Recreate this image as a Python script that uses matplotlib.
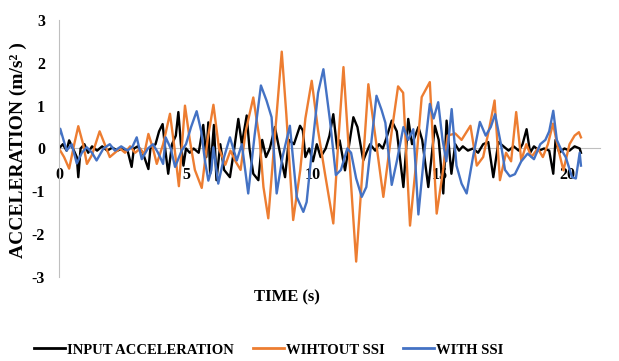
import matplotlib
matplotlib.use("Agg")
import matplotlib.pyplot as plt
from matplotlib.lines import Line2D

# values (time in s, acceleration in m/s2)
t_input = [0.0, 0.15, 0.3, 0.4, 0.55, 0.7, 0.76, 0.85, 1.0, 1.15, 1.3, 1.5, 1.7, 1.9, 2.1, 2.3,
           2.5, 2.7, 2.86, 2.95, 3.1, 3.3, 3.52, 3.6, 3.8, 3.94, 4.08, 4.18, 4.3, 4.45, 4.6, 4.7,
           4.8, 4.9, 5.0, 5.15, 5.3, 5.5, 5.68, 5.8, 5.88, 5.95, 6.1, 6.2, 6.35, 6.5, 6.73, 6.9,
           7.06, 7.2, 7.39, 7.5, 7.65, 7.85, 8.0, 8.15, 8.3, 8.5, 8.7, 8.9, 9.05, 9.25, 9.49, 9.6,
           9.7, 9.85, 10.0, 10.15, 10.3, 10.5, 10.65, 10.8, 10.95, 11.05, 11.26, 11.4, 11.59, 11.75,
           11.98, 12.1, 12.25, 12.45, 12.6, 12.75, 12.9, 13.1, 13.3, 13.56, 13.75, 13.9, 14.15, 14.3,
           14.54, 14.8, 14.95, 15.13, 15.26, 15.45, 15.6, 15.75, 15.9, 16.1, 16.3, 16.5, 16.7, 16.9,
           17.1, 17.3, 17.5, 17.7, 17.9, 18.1, 18.25, 18.41, 18.55, 18.7, 18.9, 19.1, 19.3, 19.46,
           19.55, 19.7, 19.9, 20.1, 20.3, 20.5, 20.55]
a_input = [0.0, 0.1, -0.05, 0.19, 0.0, -0.2, -0.67, 0.0, 0.1, -0.1, 0.05, -0.05, 0.05, -0.05, 0.02, -0.05,
           0.0, -0.05, -0.43, 0.0, 0.05, -0.1, -0.48, 0.0, 0.1, 0.4, 0.57, 0.0, -0.59, 0.1, 0.3, 0.85,
           0.1, -0.4, 0.0, -0.1, 0.0, -0.1, 0.55, -0.2, 0.61, -0.59, 0.55, -0.74, 0.1, -0.5, -0.67, 0.0,
           0.69, 0.1, 0.77, 0.0, -0.59, -0.74, 0.2, -0.2, 0.0, 0.5, -0.1, -0.67, 0.2, 0.1, 0.53, 0.42,
           -0.2, 0.0, -0.3, 0.1, -0.2, 0.0, 0.3, 0.8, 0.0, 0.19, -0.51, 0.0, 0.73, 0.5,
           -0.28, -0.1, 0.1, -0.05, 0.1, 0.0, 0.26, 0.65, 0.4, -0.9, 0.69, 0.1, 0.5, 0.2,
           -0.9, 0.53, 0.2, -1.05, 0.65, -0.59, 0.1, -0.05, 0.05, -0.05, 0.0, -0.1, 0.1, 0.15,
           -0.67, 0.15, 0.05, -0.05, 0.05, -0.05, 0.1, 0.45, -0.1, 0.05, -0.05, 0.0, -0.05, -0.59,
           0.2, -0.1, 0.0, -0.05, 0.05, 0.0, -0.1]

t_without = [0.0, 0.2, 0.4, 0.6, 0.76, 0.95, 1.1, 1.3, 1.6, 1.8, 2.0, 2.2, 2.4, 2.6, 2.8, 3.0,
             3.2, 3.35, 3.52, 3.7, 3.85, 4.1, 4.37, 4.55, 4.72, 4.96, 5.15, 5.35, 5.62, 5.85, 6.08,
             6.3, 6.55, 6.75, 6.95, 7.15, 7.35, 7.65, 7.9, 8.05, 8.24, 8.5, 8.77, 8.95, 9.22, 9.5,
             9.7, 9.95, 10.2, 10.47, 10.8, 11.0, 11.2, 11.45, 11.7, 11.95, 12.18, 12.45, 12.77, 13.1,
             13.35, 13.55, 13.82, 14.05, 14.28, 14.6, 14.87, 15.1, 15.3, 15.6, 15.85, 16.2, 16.45,
             16.7, 16.95, 17.15, 17.36, 17.6, 17.8, 18.0, 18.2, 18.4, 18.6, 18.85, 19.05, 19.25,
             19.45, 19.65, 19.86, 20.1, 20.3, 20.47, 20.55]
a_without = [0.0, -0.2, -0.47, 0.1, 0.52, 0.1, -0.36, -0.15, 0.4, 0.1, -0.2, -0.1, 0.0, -0.1, 0.05, -0.1,
             0.0, -0.15, 0.34, 0.0, -0.36, 0.1, 0.81, 0.0, -0.88, 1.0, 0.2, -0.5, -0.92, 0.2, 1.02,
             0.0, -0.38, -0.05, -0.3, -0.5, 0.4, 1.19, 0.2, -0.9, -1.63, 0.3, 2.26, 0.8, -1.67, -0.5,
             0.7, 1.58, 0.42, -0.58, -1.75, 0.2, 1.9, -0.4, -2.64, -0.5, 1.5, 0.3, -1.13, 0.4,
             1.45, 1.3, -1.8, -0.4, 1.2, 1.55, -1.52, -0.6, 0.3, 0.35, 0.2, 0.53, -0.4,
             -0.2, 0.5, 1.12, -0.74, -0.1, -0.3, 0.85, -0.28, 0.1, -0.2, 0.0, -0.2, 0.1,
             0.58, 0.0, -0.51, 0.1, 0.3, 0.38, 0.26]

t_with = [0.0, 0.05, 0.3, 0.5, 0.7, 0.9, 1.09, 1.3, 1.48, 1.75, 2.0, 2.2, 2.45, 2.7, 2.9, 3.06,
          3.26, 3.5, 3.7, 3.9, 4.1, 4.2, 4.4, 4.57, 4.83, 5.0, 5.2, 5.42, 5.6, 5.75, 5.88, 6.0,
          6.08, 6.27, 6.5, 6.73, 7.0, 7.2, 7.45, 7.7, 7.95, 8.17, 8.37, 8.57, 8.8, 9.09, 9.36,
          9.62, 9.75, 10.0, 10.2, 10.41, 10.67, 10.9, 11.1, 11.35, 11.5, 11.7, 11.92, 12.1, 12.5,
          12.7, 12.85, 13.1, 13.3, 13.56, 13.75, 13.95, 14.15, 14.4, 14.6, 14.75, 14.93, 15.1,
          15.25, 15.46, 15.65, 15.85, 16.05, 16.3, 16.57, 16.8, 17.0, 17.17, 17.4, 17.56, 17.75,
          17.95, 18.2, 18.45, 18.7, 18.95, 19.15, 19.3, 19.46, 19.6, 19.75, 19.95, 20.2, 20.35,
          20.5, 20.55]
a_with = [0.3, 0.46, -0.05, 0.1, -0.35, -0.1, 0.03, -0.1, -0.28, 0.0, 0.1, -0.05, 0.05, -0.05, 0.05, 0.26,
          -0.25, 0.0, 0.1, -0.1, -0.36, 0.26, 0.0, -0.43, -0.05, 0.1, 0.5, 0.87, 0.4, -0.3, -0.75, -0.5,
          0.03, -0.82, -0.2, 0.26, -0.28, 0.1, -1.05, 0.3, 1.47, 1.12, 0.73, -1.05, -0.2, 0.53, -1.13,
          -1.48, -1.25, 0.2, 1.3, 1.85, 0.65, -0.62, -0.5, 0.0, -0.1, -0.7, -1.13, -0.9, 1.23,
          0.9, 0.6, -0.85, -0.3, 0.5, 0.2, 0.45, -1.54, 0.0, 1.04, 0.7, 1.08, 0.2,
          -0.3, 0.92, -0.4, -0.82, -1.05, -0.2, 0.62, 0.3, 0.5, 0.8, 0.1, -0.5, -0.65,
          -0.6, -0.3, -0.12, -0.25, 0.1, 0.2, 0.4, 0.88, 0.2, 0.0, -0.2, -0.67, -0.7,
          -0.1, -0.4]

series_names = ["INPUT ACCELERATION", "WIHTOUT SSI", "WITH SSI"]
series_colors = ["#000000", "#ED7D31", "#4472C4"]
y_ticks = [-3, -2, -1, 0, 1, 2, 3]
x_ticks = [0, 5, 10, 15, 20]

plt.rcParams['font.family'] = ['Liberation Serif', 'DejaVu Serif']
plt.rcParams['font.weight'] = 'bold'
plt.rcParams['axes.unicode_minus'] = False

fig = plt.figure(figsize=(6.19, 3.61), dpi=100)
ax = fig.add_axes([0.0953, 0.2327, 0.874, 0.712])

for t, a, c in zip([t_input, t_without, t_with], [a_input, a_without, a_with], series_colors):
    ax.plot(t, a, color=c, lw=1.7, solid_joinstyle='round')

ax.set_xlim(0, 21.3)
ax.set_ylim(-3, 3)
ax.set_yticks(y_ticks)
ax.set_xticks(x_ticks)
ax.spines['top'].set_visible(False)
ax.spines['right'].set_visible(False)
ax.spines['bottom'].set_position(('data', 0))
ax.spines['bottom'].set_color('#BFBFBF')
ax.spines['left'].set_color('#BFBFBF')
ax.spines['bottom'].set_zorder(0)
ax.tick_params(axis='y', length=0, pad=10, labelsize=11.5)
ax.tick_params(axis='x', length=0, pad=13, labelsize=11.5)
for lbl in ax.get_xticklabels() + ax.get_yticklabels():
    lbl.set_fontweight('bold')

fig.text(18 / 619, 1 - 150 / 361, "ACCELERATION (m/s² )", rotation=90,
         ha='center', va='center', fontsize=14, fontweight='bold')
fig.text(287 / 619, 1 - 297 / 361, "TIME (s)", ha='center', va='center',
         fontsize=12, fontweight='bold')

handles = [Line2D([], [], color=c, lw=2) for c in series_colors]
fig.legend(handles, series_names, loc='center', bbox_to_anchor=(269 / 619, 1 - 350 / 361),
           ncol=3, frameon=False, handlelength=2.1, handletextpad=0.15, columnspacing=1.3,
           prop={'weight': 'bold', 'size': 10.5})

fig.savefig("out.png", dpi=100)
